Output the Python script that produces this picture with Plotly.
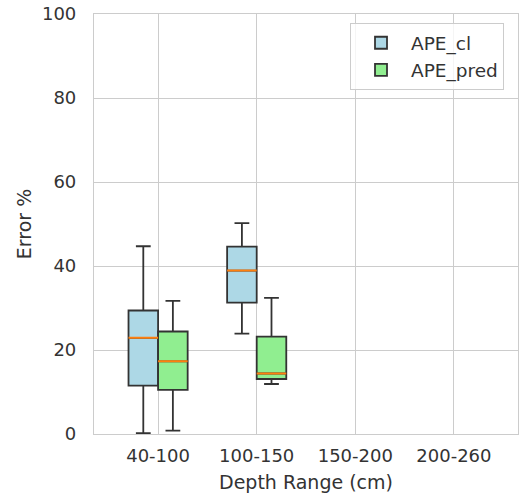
import plotly.graph_objects as go

categories = ["40-100", "100-150", "150-200", "200-260"]
data_cats = ["40-100", "100-150"]

cl_lower = [0.2, 23.9]
cl_q1 = [11.5, 31.3]
cl_med = [22.9, 38.9]
cl_q3 = [29.4, 44.6]
cl_upper = [44.7, 50.2]

pred_lower = [0.8, 11.9]
pred_q1 = [10.5, 13.1]
pred_med = [17.3, 14.4]
pred_q3 = [24.4, 23.2]
pred_upper = [31.7, 32.4]

FONT = "DejaVu Sans"
TXT = "#333333"
GRID = "#cccccc"
EDGE = "#333333"
MED = "#ff7f0e"

fig = go.Figure()

# register all categories (some have no data)
fig.add_trace(go.Scatter(x=categories, y=[None] * len(categories), mode="markers",
                         showlegend=False, hoverinfo="skip"))

series = [
    ("APE_cl", "#add8e6", cl_lower, cl_q1, cl_med, cl_q3, cl_upper),
    ("APE_pred", "#90ee90", pred_lower, pred_q1, pred_med, pred_q3, pred_upper),
]
for name, color, lo, q1, med, q3, up in series:
    fig.add_trace(go.Box(
        name=name, x=data_cats, q1=q1, median=med, q3=q3,
        lowerfence=lo, upperfence=up, offsetgroup=name, legendgroup=name,
        fillcolor=color, line=dict(color=EDGE, width=1.8),
        whiskerwidth=0.5, boxpoints=False,
    ))
for name, color, lo, q1, med, q3, up in series:
    fig.add_trace(go.Box(
        name=name + "_median", x=data_cats, q1=med, median=med, q3=med,
        lowerfence=med, upperfence=med, offsetgroup=name, legendgroup=name,
        fillcolor="rgba(0,0,0,0)", line=dict(color=MED, width=2),
        whiskerwidth=0, boxpoints=False, showlegend=False, hoverinfo="skip",
    ))

fig.update_layout(
    width=523, height=498,
    margin=dict(l=94, r=5, t=14, b=64),
    paper_bgcolor="white", plot_bgcolor="white",
    boxmode="group", boxgap=0.4, boxgroupgap=0,
    font=dict(family=FONT, size=18, color=TXT),
    legend=dict(x=0.967, xanchor="right", y=0.978, yanchor="top",
                bordercolor=GRID, borderwidth=1, bgcolor="rgba(255,255,255,0.8)",
                tracegroupgap=0, itemwidth=50,
                font=dict(size=18.5, color=TXT)),
    showlegend=True,
)
fig.update_xaxes(
    type="category", categoryorder="array", categoryarray=categories,
    range=[-0.65, 3.65], showgrid=True, gridcolor=GRID, gridwidth=1,
    showline=True, linecolor=GRID, linewidth=1.2, mirror=True,
    ticks="", ticklabelstandoff=5, automargin=False,
    title=dict(text="Depth Range (cm)", standoff=10, font=dict(size=19, color=TXT)),
)
fig.update_yaxes(
    range=[0, 100], dtick=20, showgrid=True, gridcolor=GRID, gridwidth=1,
    zeroline=False, showline=True, linecolor=GRID, linewidth=1.2, mirror=True,
    ticks="", ticklabelstandoff=13, automargin=False, ticklabeloverflow="allow",
    title=dict(text="Error %", standoff=5, font=dict(size=19, color=TXT)),
)

fig.write_html(
    "out.html",
    config={"displayModeBar": False},
    post_script="document.body.style.margin='0';document.body.style.overflow='hidden';",
)
